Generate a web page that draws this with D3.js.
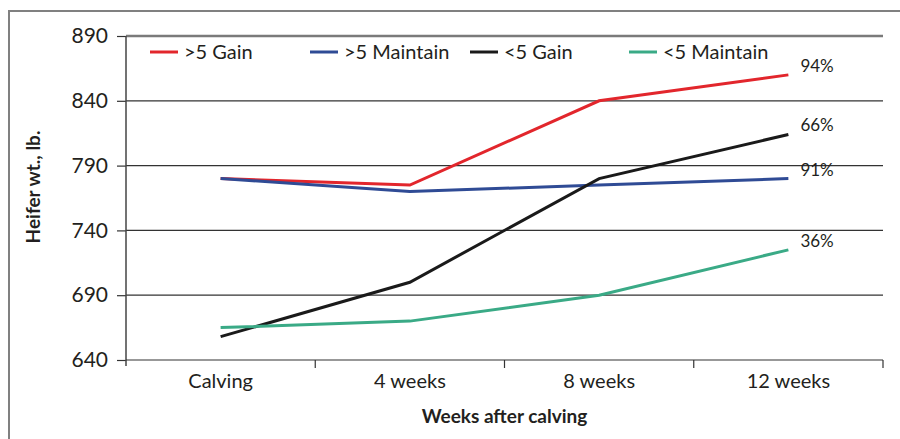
<!DOCTYPE html>
<html>
  <head>
    <title>Heifer weight</title>
    <script type="text/javascript" src="https://d3js.org/d3.v7.min.js"></script>
    <style>
      body { margin: 0; background: #fff; }
      text { font-family: Lato, "Open Sans", sans-serif; fill: #231f20; }
    </style>
  </head>
  <body>
    <svg width="900" height="439" class="chart"></svg>

    <script type="text/javascript">
      var categories = ['Calving', '4 weeks', '8 weeks', '12 weeks'];
      var yTicks = [640, 690, 740, 790, 840, 890];
      var seriesNames = ['>5 Gain', '>5 Maintain', '<5 Gain', '<5 Maintain'];
      var gainHigh     = [780, 775, 840, 860];
      var maintainHigh = [780, 770, 775, 780];
      var gainLow      = [658, 700, 780, 814];
      var maintainLow  = [665, 670, 690, 725];
      var endLabels = ['94%', '91%', '66%', '36%'];
      var colors = ['#e2262c', '#2f4b95', '#1a1a1a', '#3aaa86'];

      var series = [gainHigh, maintainHigh, gainLow, maintainLow].map(function(v, i) {
        return { name: seriesNames[i], values: v, label: endLabels[i], color: colors[i] };
      });

      var svg = d3.select('svg.chart');
      // note: "top" is a read-only global in browsers, so use plot* names
      var plotLeft = 126, plotRight = 883, plotTop = 36, plotBottom = 360;

      var x = d3.scaleBand().domain(categories).range([plotLeft, plotRight]).padding(0);
      var y = d3.scaleLinear().domain([640, 890]).range([plotBottom, plotTop]);

      // outer frame (only left and top edges visible)
      svg.append('path')
         .attr('d', 'M9,439V11H900')
         .attr('fill', 'none')
         .attr('stroke', '#808080')
         .attr('stroke-width', 2);

      // gridlines
      svg.append('g')
         .selectAll('line')
         .data(yTicks.slice(1))
         .enter()
         .append('line')
         .attr('x1', plotLeft).attr('x2', plotRight)
         .attr('y1', function(d) { return y(d); })
         .attr('y2', function(d) { return y(d); })
         .attr('stroke', function(d) { return d === 890 ? '#7a7a7a' : '#333'; })
         .attr('stroke-width', function(d) { return d === 890 ? 2.5 : 1.2; });

      // y axis
      var yAxis = svg.append('g')
         .attr('transform', 'translate(' + plotLeft + ',0)')
         .call(d3.axisLeft(y).tickValues(yTicks).tickSize(9).tickPadding(9));
      yAxis.select('.domain').remove();
      yAxis.selectAll('.tick line').attr('stroke', '#333').attr('stroke-width', 1.2);
      yAxis.selectAll('.tick text')
           .style('font-size', '21px')
           .style('font-family', 'Lato, sans-serif')
           .attr('fill', '#231f20');
      svg.append('line')
         .attr('x1', plotLeft).attr('x2', plotLeft)
         .attr('y1', plotTop).attr('y2', plotBottom + 6)
         .attr('stroke', '#444').attr('stroke-width', 1.5);

      // x axis
      svg.append('line')
         .attr('x1', plotLeft).attr('x2', plotRight)
         .attr('y1', plotBottom).attr('y2', plotBottom)
         .attr('stroke', '#333').attr('stroke-width', 1.2);
      var bounds = categories.map(function(c) { return x(c); }).concat([plotRight]);
      svg.append('g')
         .selectAll('line')
         .data(bounds.slice(1))
         .enter()
         .append('line')
         .attr('x1', function(d) { return d; })
         .attr('x2', function(d) { return d; })
         .attr('y1', plotBottom).attr('y2', plotBottom + 8)
         .attr('stroke', '#333').attr('stroke-width', 1.2);
      var xAxis = svg.append('g')
         .attr('transform', 'translate(0,' + plotBottom + ')')
         .call(d3.axisBottom(x).tickSize(0).tickPadding(14));
      xAxis.select('.domain').remove();
      xAxis.selectAll('.tick text')
           .style('font-size', '20px')
           .style('font-family', 'Lato, sans-serif')
           .attr('fill', '#231f20');

      // axis titles
      svg.append('text')
         .attr('x', (plotLeft + plotRight) / 2)
         .attr('y', 423)
         .attr('text-anchor', 'middle')
         .style('font-size', '19px')
         .style('font-weight', 'bold')
         .text('Weeks after calving');
      svg.append('text')
         .attr('transform', 'translate(40,187) rotate(-90)')
         .attr('text-anchor', 'middle')
         .style('font-size', '19px')
         .style('font-weight', 'bold')
         .text('Heifer wt., lb.');

      // lines
      var line = d3.line()
                   .x(function(d, i) { return x(categories[i]) + x.bandwidth() / 2; })
                   .y(function(d) { return y(d); });

      svg.append('g')
         .selectAll('path')
         .data(series)
         .enter()
         .append('path')
         .attr('d', function(d) { return line(d.values); })
         .attr('fill', 'none')
         .attr('stroke', function(d) { return d.color; })
         .attr('stroke-width', 3);

      // end labels
      var last = categories.length - 1;
      svg.append('g')
         .selectAll('text')
         .data(series)
         .enter()
         .append('text')
         .attr('x', x(categories[last]) + x.bandwidth() / 2 + 12)
         .attr('y', function(d) { return y(d.values[last]) - 3; })
         .style('font-size', '17px')
         .text(function(d) { return d.label; });

      // legend
      var legendX = [150, 310, 470, 629];
      var legend = svg.append('g')
         .selectAll('g')
         .data(series)
         .enter()
         .append('g')
         .attr('transform', function(d, i) { return 'translate(' + legendX[i] + ',52)'; });
      legend.append('line')
            .attr('x1', 0).attr('x2', 28)
            .attr('stroke', function(d) { return d.color; })
            .attr('stroke-width', 3);
      legend.append('text')
            .attr('x', 34)
            .attr('y', 7)
            .style('font-size', '20px')
            .text(function(d) { return d.name; });
    </script>
  </body>
</html>
